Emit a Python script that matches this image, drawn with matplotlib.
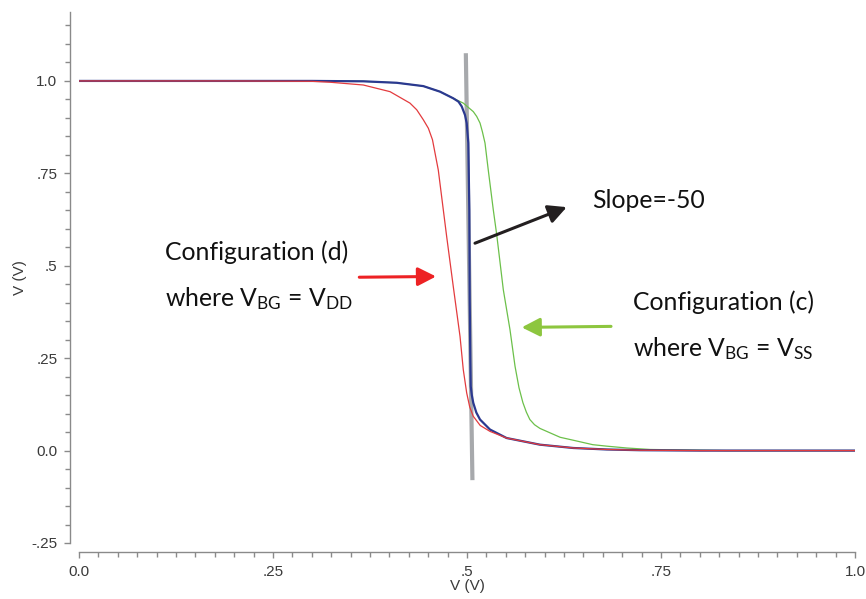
import matplotlib
matplotlib.use("Agg")
import matplotlib.pyplot as plt
from matplotlib.ticker import FixedLocator, MultipleLocator

# ---- data ----
red_x = [0.0, 0.20, 0.30, 0.3235, 0.3664, 0.4008, 0.4265, 0.4352, 0.4437, 0.4502,
         0.4555, 0.463, 0.4738, 0.4823, 0.491, 0.4952, 0.4996, 0.5035, 0.508, 0.5170,
         0.5296, 0.551, 0.594, 0.637, 0.680, 0.723, 0.80, 1.0]
red_y = [1.0, 1.0, 0.999, 0.9965, 0.989, 0.971, 0.940, 0.922, 0.895, 0.872,
         0.841, 0.759, 0.579, 0.444, 0.309, 0.219, 0.156, 0.118, 0.093, 0.068,
         0.052, 0.034, 0.016, 0.007, 0.003, 0.001, 0.0, 0.0]

blue_x = [0.0, 0.30, 0.3664, 0.4094, 0.4437, 0.4652, 0.4823, 0.4890, 0.4932, 0.4974,
          0.4996, 0.5017, 0.503, 0.5035, 0.5043, 0.5048, 0.5062, 0.5081, 0.5120, 0.5168,
          0.5296, 0.551, 0.594, 0.637, 0.680, 0.723, 0.80, 1.0]
blue_y = [1.0, 1.0, 0.999, 0.995, 0.986, 0.971, 0.953, 0.944, 0.931, 0.908,
          0.886, 0.832, 0.651, 0.408, 0.246, 0.174, 0.150, 0.129, 0.103, 0.084,
          0.057, 0.034, 0.016, 0.007, 0.003, 0.001, 0.0, 0.0]

green_x = [0.0, 0.30, 0.3664, 0.4094, 0.4437, 0.4652, 0.4823, 0.4952, 0.5081, 0.5125,
           0.5168, 0.5199, 0.5232, 0.5274, 0.5339, 0.5383, 0.5468, 0.5554, 0.5619, 0.567,
           0.572, 0.5765, 0.581, 0.587, 0.594, 0.620, 0.637, 0.662, 0.680, 0.706,
           0.736, 0.835, 1.0]
green_y = [1.0, 1.0, 0.999, 0.995, 0.986, 0.971, 0.953, 0.940, 0.917, 0.904,
           0.886, 0.862, 0.832, 0.759, 0.651, 0.584, 0.435, 0.327, 0.228, 0.170,
           0.130, 0.104, 0.084, 0.070, 0.060, 0.036, 0.028, 0.016, 0.012, 0.007,
           0.003, 0.0, 0.0]

slope_x = [0.4985, 0.507]
slope_y = [1.075, -0.08]

tick_vals = [0.0, 0.25, 0.5, 0.75, 1.0]
x_tick_labels = ["0.0", ".25", ".5", ".75", "1.0"]
y_tick_vals = [-0.25, 0.0, 0.25, 0.5, 0.75, 1.0]
y_tick_labels = ["-.25", "0.0", ".25", ".5", ".75", "1.0"]

# ---- figure ----
plt.rcParams['mathtext.fontset'] = 'custom'
plt.rcParams['mathtext.rm'] = 'Lato'
plt.rcParams['mathtext.it'] = 'Lato'

W, H = 866, 599
fig = plt.figure(figsize=(W / 100, H / 100), dpi=100)
ax = fig.add_axes([79 / W, (H - 543) / H, 776 / W, (543 - 11.7) / H])
ax.set_xlim(0, 1)
ax.set_ylim(-0.25, 1.1873)

ax.plot(green_x, green_y, color='#6cc04a', lw=0.9, zorder=3)
ax.plot(blue_x, blue_y, color='#2b3990', lw=1.6, zorder=4)
ax.plot(red_x, red_y, color='#e33b3e', lw=0.9, zorder=5)
ax.plot(slope_x, slope_y, color='#a7a9ac', lw=3.0, zorder=2, solid_capstyle='butt')

# spines
for s in ['top', 'right']:
    ax.spines[s].set_visible(False)
spine_c = '#8a8a8a'
for s in ['left', 'bottom']:
    ax.spines[s].set_color(spine_c)
    ax.spines[s].set_linewidth(1.0)
    ax.spines[s].set_position(('outward', 6.5))

ax.xaxis.set_major_locator(FixedLocator(tick_vals))
ax.set_xticklabels(x_tick_labels)
ax.xaxis.set_minor_locator(MultipleLocator(0.025))
ax.yaxis.set_major_locator(FixedLocator(y_tick_vals))
ax.set_yticklabels(y_tick_labels)
ax.yaxis.set_minor_locator(MultipleLocator(0.05))

lab_font = dict(family=['Liberation Sans', 'DejaVu Sans'], size=11)
for lab in ax.get_xticklabels() + ax.get_yticklabels():
    lab.set_fontfamily(['Liberation Sans', 'DejaVu Sans'])
    lab.set_fontsize(11)
ax.tick_params(which='both', direction='out', color=spine_c, width=1.0,
               labelcolor='#3a3a3a')
ax.tick_params(which='major', length=4)
ax.tick_params(which='minor', length=3.5)
ax.tick_params(axis='x', which='major', pad=5)
ax.tick_params(axis='y', which='major', pad=5)

ax.set_xlabel("V (V)", color='#3a3a3a', labelpad=0, **lab_font)
ax.set_ylabel("V (V)", color='#3a3a3a', labelpad=3, **lab_font)

# ---- annotations ----
tf = dict(family=['Lato', 'DejaVu Sans'], size=17.8, color='#111111', va='baseline', ha='left')
ax.text(0.1108, 0.5162, "Configuration (d)", **tf)
ax.text(0.1108, 0.390, r"where $\mathregular{V_{BG}}$ = $\mathregular{V_{DD}}$", **tf)
ax.text(0.661, 0.6568, "Slope=-50", **tf)
ax.text(0.7139, 0.381, "Configuration (c)", **tf)
ax.text(0.7139, 0.2549, r"where $\mathregular{V_{BG}}$ = $\mathregular{V_{SS}}$", **tf)

astyle = '-|>,head_length=0.55,head_width=0.28'
ax.annotate("", xy=(0.6285, 0.6586), xytext=(0.5103, 0.561),
            arrowprops=dict(arrowstyle=astyle, mutation_scale=20, lw=2.2,
                            color='#231f20', shrinkA=0, shrinkB=0), zorder=6)
ax.annotate("", xy=(0.4601, 0.471), xytext=(0.3612, 0.469),
            arrowprops=dict(arrowstyle=astyle, mutation_scale=20, lw=2.2,
                            color='#ed2224', shrinkA=0, shrinkB=0), zorder=6)
ax.annotate("", xy=(0.5705, 0.3333), xytext=(0.6856, 0.336),
            arrowprops=dict(arrowstyle=astyle, mutation_scale=20, lw=2.2,
                            color='#8dc63f', shrinkA=0, shrinkB=0), zorder=6)

fig.savefig("out.png", dpi=100)
